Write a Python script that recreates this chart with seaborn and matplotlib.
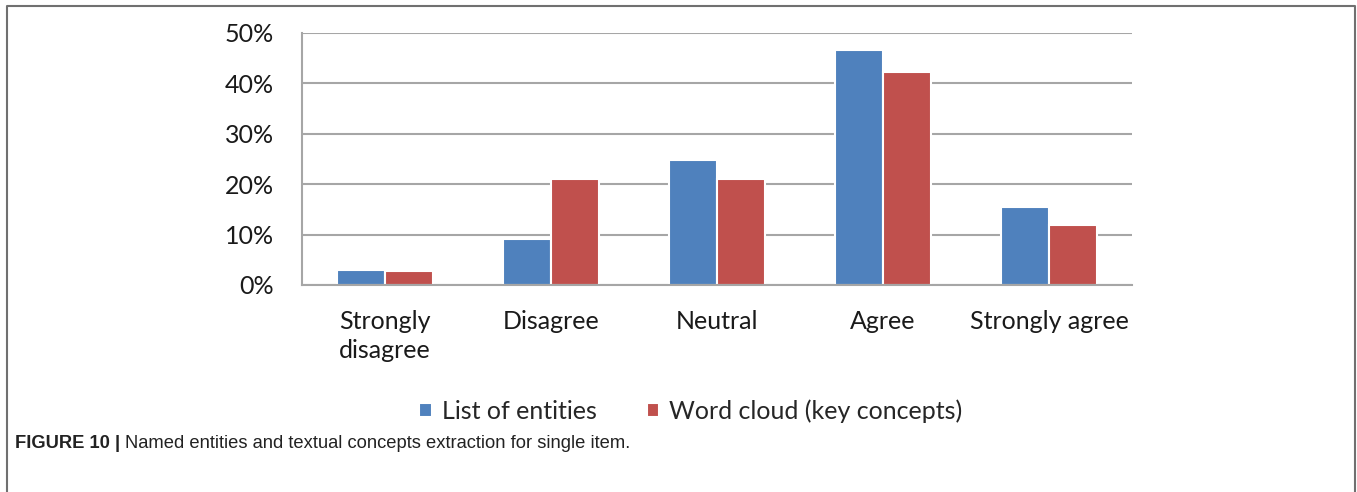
import matplotlib
matplotlib.use("Agg")
import matplotlib.pyplot as plt
import seaborn as sns
import pandas as pd
from matplotlib import font_manager
from matplotlib.ticker import FuncFormatter

# ---- data ----
categories = ["Strongly\ndisagree", "Disagree", "Neutral", "Agree", "Strongly agree"]
series_names = ["List of entities", "Word cloud (key concepts)"]
list_of_entities = [2.9, 9.2, 24.8, 46.7, 15.4]
word_cloud = [2.7, 21.0, 21.0, 42.3, 11.9]
y_ticks = [0, 10, 20, 30, 40, 50]

BLUE = "#4F81BD"
RED = "#C0504D"
GRID = "#A6A6A6"

sns.set_style("white")
plt.rcParams['font.family'] = ['Lato', 'DejaVu Sans']

df = pd.DataFrame({
    "category": categories * 2,
    "value": list_of_entities + word_cloud,
    "series": [series_names[0]] * 5 + [series_names[1]] * 5,
})

fig = plt.figure(figsize=(13.57, 4.92), dpi=100)
ax = fig.add_axes([302 / 1357, 1 - 285 / 492, 830 / 1357, 252 / 492])

sns.barplot(data=df, x="category", y="value", hue="series", order=categories,
            hue_order=series_names, palette=[BLUE, RED], width=0.58,
            edgecolor="white", linewidth=1.5, saturation=1, ax=ax, legend=True)

ax.set_ylim(0, 50)
ax.set_xlim(-0.5, len(categories) - 0.5)
ax.set_yticks(y_ticks)
ax.yaxis.set_major_formatter(FuncFormatter(lambda v, p: f"{v:.0f}%"))
ax.yaxis.grid(True, color=GRID, linewidth=1.5)
ax.set_axisbelow(True)

# category boundaries as major ticks, labels on minor ticks
ax.set_xticks([i - 0.5 for i in range(len(categories) + 1)])
ax.set_xticklabels([])
ax.set_xticks(range(len(categories)), minor=True)
ax.set_xticklabels(categories, minor=True, fontsize=18, color="#1a1a1a",
                   linespacing=1.3, va="top")
ax.tick_params(axis="x", which="major", length=8, width=1.5, color=GRID, direction="out")
ax.tick_params(axis="x", which="minor", length=0, pad=18)
ax.tick_params(axis="y", length=8, width=1.5, color=GRID, labelsize=18,
               labelcolor="#1a1a1a", pad=12)

for s in ["top", "right"]:
    ax.spines[s].set_visible(False)
for s in ["left", "bottom"]:
    ax.spines[s].set_color(GRID)
    ax.spines[s].set_linewidth(1.5)
ax.set_xlabel("")
ax.set_ylabel("")

handles, labels = ax.get_legend_handles_labels()
ax.get_legend().remove()
fig.legend(handles, labels, loc="center", bbox_to_anchor=(0.509, 1 - 411 / 492),
           ncol=2, frameon=False, fontsize=18, handlelength=0.5, handleheight=0.5,
           handletextpad=0.4, columnspacing=2.0)

# outer frame (open at the bottom)
fig.add_artist(plt.Line2D([7 / 1357, 7 / 1357, 1355 / 1357, 1355 / 1357],
                          [0, 1 - 6 / 492, 1 - 6 / 492, 0],
                          transform=fig.transFigure, color="#707070", linewidth=1.5))

# caption
names = {f.name for f in font_manager.fontManager.ttflist}
cap_font = "Liberation Sans Narrow" if "Liberation Sans Narrow" in names else "Liberation Sans"
cap_size = 13.2 if cap_font == "Liberation Sans" else 15.5
cap_y = 1 - 443 / 492
t1 = fig.text(15 / 1357, cap_y, "FIGURE 10 | ", fontsize=cap_size, fontweight="bold",
              family=cap_font, va="center", color="#222222")
fig.canvas.draw()
bb = t1.get_window_extent()
fig.text(bb.x1 / fig.bbox.width, cap_y,
         "Named entities and textual concepts extraction for single item.",
         fontsize=cap_size, family=cap_font, va="center", color="#222222")

fig.savefig("out.png", dpi=100)
